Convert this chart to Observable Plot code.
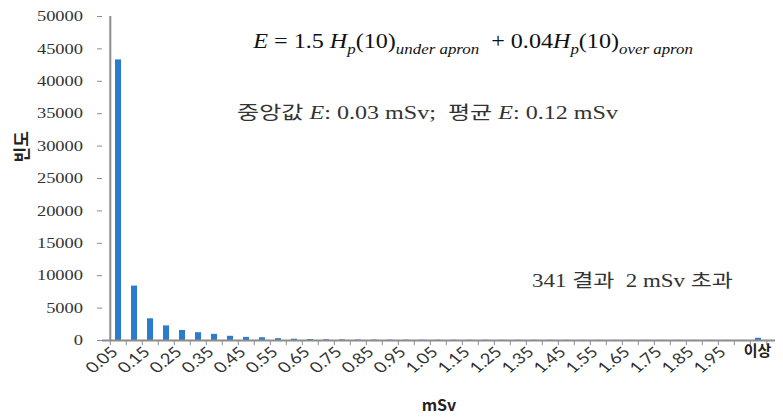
<!DOCTYPE html>
<html>
<head>
<meta charset="utf-8">
<script src="https://cdn.jsdelivr.net/npm/d3@7"></script>
<script src="https://cdn.jsdelivr.net/npm/@observablehq/plot@0.6"></script>
<style>
  html, body { margin: 0; padding: 0; background: #fff; }
  #chart { width: 783px; height: 420px; }
</style>
</head>
<body>
<div id="chart"></div>
<script>
// ---------- data ----------
const categories = ["0.05","0.1","0.15","0.2","0.25","0.3","0.35","0.4","0.45","0.5",
  "0.55","0.6","0.65","0.7","0.75","0.8","0.85","0.9","0.95","1",
  "1.05","1.1","1.15","1.2","1.25","1.3","1.35","1.4","1.45","1.5",
  "1.55","1.6","1.65","1.7","1.75","1.8","1.85","1.9","1.95","2","이상"];
const frequencies = [43300, 8400, 3350, 2250, 1550, 1200, 950, 650, 480, 420,
  280, 200, 150, 120, 100, 80, 70, 60, 55, 50,
  45, 40, 38, 35, 32, 30, 28, 26, 24, 22,
  20, 19, 18, 17, 16, 15, 14, 13, 12, 11, 341];
const xTickLabels = ["0.05","0.15","0.25","0.35","0.45","0.55","0.65","0.75","0.85","0.95",
  "1.05","1.15","1.25","1.35","1.45","1.55","1.65","1.75","1.85","1.95"];
const overflowLabel = "이상";
const yTicks = [0, 5000, 10000, 15000, 20000, 25000, 30000, 35000, 40000, 45000, 50000];
const xTitle = "mSv";
const yTitle = "빈도";
const formulaParts = [
  {t: "E", i: true}, {t: " = 1.5 "}, {t: "H", i: true}, {t: "p", i: true, sub: true},
  {t: "(10)"}, {t: "under apron", i: true, sub: true}, {t: "  + 0.04"},
  {t: "H", i: true}, {t: "p", i: true, sub: true}, {t: "(10)"}, {t: "over apron", i: true, sub: true}
];
const statsParts = [
  {t: "중앙값 "}, {t: "E", i: true}, {t: ": 0.03 mSv;  평균 "}, {t: "E", i: true}, {t: ": 0.12 mSv"}
];
const exceedParts = [{t: "341 결과  2 mSv 초과"}];

// ---------- style ----------
const barColor = "#2b7bcf";
const axisColor = "#8c8c8c";
const tickTextColor = "#333";
const W = 783, H = 420;
const mL = 102, mR = 8, mT = 16, mB = 80;
const step = (W - mL - mR) / categories.length;
const stretch = 1.23;

const data = categories.map((c, i) => ({bin: c, count: frequencies[i]}));

const plot = Plot.plot({
  width: W, height: H,
  marginLeft: mL, marginRight: mR, marginTop: mT, marginBottom: mB,
  style: {background: "#fff", overflow: "visible"},
  x: {type: "band", domain: categories, paddingInner: 0.62, paddingOuter: 0.31, axis: null},
  y: {domain: [0, 50000], axis: null},
  marks: [
    Plot.barY(data, {x: "bin", y: "count", fill: barColor}),
    Plot.axisY({ticks: yTicks, tickSize: 5, tickFormat: () => "", label: null, stroke: axisColor}),
    Plot.axisX({ticks: categories, tickSize: 5, tickFormat: () => "", label: null, dx: -step / 2, stroke: axisColor}),
    Plot.axisX({ticks: [categories[categories.length - 1]], tickSize: 5, tickFormat: () => "", label: null, dx: step / 2, stroke: axisColor}),
    Plot.ruleY([0], {stroke: axisColor, strokeWidth: 2}),
    Plot.ruleX([categories[0]], {x: d => d, dx: -step / 2, stroke: axisColor, strokeWidth: 2}),
    Plot.text([overflowLabel], {x: d => d, text: d => d, frameAnchor: "bottom", dy: 15, dx: -1,
      fontWeight: "bold", fontSize: 15, fill: "#222", fontFamily: "Noto Sans CJK KR"}),
    Plot.text([xTitle], {text: d => d, frameAnchor: "bottom", dy: 70,
      fontWeight: "bold", fontSize: 16, fill: "#222", fontFamily: "Noto Sans CJK KR"}),
    Plot.text([yTitle], {text: d => d, frameAnchor: "left", dx: -80, dy: -16, rotate: -90,
      fontWeight: "bold", fontSize: 17, fill: "#222", fontFamily: "Noto Sans CJK KR"})
  ]
});
document.getElementById("chart").appendChild(plot);

const svg = d3.select(plot);
const xs = plot.scale("x"), ys = plot.scale("y");
const yBottom = ys.apply(0);

// y tick labels: serif, widened horizontally like the source image
const ytl = svg.append("g").attr("font-family", "Liberation Serif").attr("font-size", 15)
  .attr("fill", tickTextColor).attr("text-anchor", "end");
ytl.selectAll("text").data(yTicks).join("text")
  .attr("transform", d => `translate(${mL - 19},${ys.apply(d)}) scale(${stretch},1)`)
  .attr("dy", "0.34em").text(d => String(d));

// rotated x tick labels, widened horizontally
const xtl = svg.append("g").attr("font-family", "Lato").attr("font-size", 15)
  .attr("fill", tickTextColor).attr("text-anchor", "end");
xtl.selectAll("text").data(xTickLabels).join("text")
  .attr("transform", d => `translate(${xs.apply(d) + xs.bandwidth / 2 + 1},${yBottom + 13}) scale(${stretch},1) rotate(-45)`)
  .text(d => d);

function annotate(parts, left, baseline, targetW, size, subSize, fill) {
  const g = svg.append("g");
  const t = g.append("text")
    .attr("font-family", "'Liberation Serif', 'Noto Sans CJK KR', serif")
    .attr("font-size", size).attr("fill", fill).attr("xml:space", "preserve")
    .style("white-space", "pre");
  let shifted = false;
  for (const p of parts) {
    const span = t.append("tspan").text(p.t);
    if (p.i) span.attr("font-style", "italic");
    if (p.sub && !shifted) { span.attr("dy", size * 0.28); shifted = true; }
    else if (!p.sub && shifted) { span.attr("dy", -size * 0.28); shifted = false; }
    if (p.sub) span.attr("font-size", subSize);
  }
  const bb = t.node().getBBox();
  const sx = targetW / bb.width;
  g.attr("transform", `translate(${left - bb.x * sx},${baseline}) scale(${sx},1)`);
}
annotate(formulaParts, 252, 48, 441, 20, 14, "#111");
annotate(statsParts, 237, 119, 381, 18, 14, "#333");
annotate(exceedParts, 532, 287, 201, 18, 14, "#333");
</script>
</body>
</html>
